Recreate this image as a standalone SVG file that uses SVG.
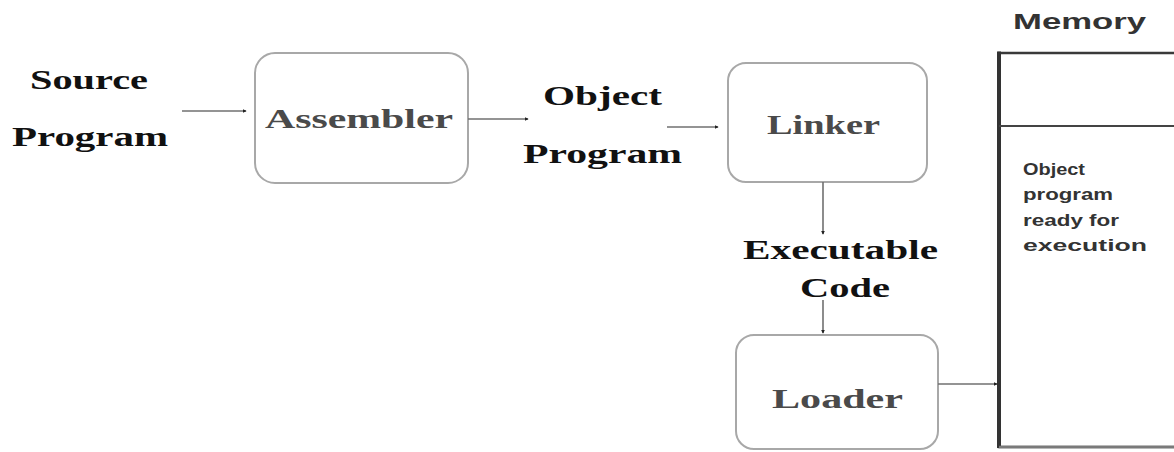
<svg xmlns="http://www.w3.org/2000/svg" width="1174" height="452" viewBox="0 0 1174 452">
  <style>
    .box { fill: #ffffff; stroke: #a8a8a8; stroke-width: 2; }
    .lbl { font-family: "Liberation Serif", "Times New Roman", serif; font-weight: bold; font-size: 28px; fill: #111111; }
    .inbox { font-family: "Liberation Serif", "Times New Roman", serif; font-weight: bold; font-size: 27px; fill: #4a4a4a; }
    .sans { font-family: "Liberation Sans", Arial, sans-serif; font-weight: bold; fill: #333333; }
    .conn { stroke: #707070; stroke-width: 1.6; fill: none; marker-end: url(#head); }
  </style>
  <defs>
    <marker id="head" viewBox="0 0 6 6" refX="5" refY="3" markerWidth="4" markerHeight="4" orient="auto" markerUnits="userSpaceOnUse">
      <path d="M0,0 L6,3 L0,6 Z" fill="#222222"/>
    </marker>
  </defs>
  <rect width="1174" height="452" fill="#ffffff"/>

  <!-- free-standing labels -->
  <g id="source-program">
    <text class="lbl" x="30" y="89" textLength="118" lengthAdjust="spacingAndGlyphs">Source</text>
    <text class="lbl" x="12" y="146" textLength="156" lengthAdjust="spacingAndGlyphs">Program</text>
  </g>
  <g id="object-program">
    <text class="lbl" x="543" y="105" textLength="119" lengthAdjust="spacingAndGlyphs">Object</text>
    <text class="lbl" x="523" y="163" textLength="159" lengthAdjust="spacingAndGlyphs">Program</text>
  </g>
  <g id="executable-code">
    <text class="lbl" x="743" y="259" textLength="195" lengthAdjust="spacingAndGlyphs">Executable</text>
    <text class="lbl" x="800" y="297" textLength="90" lengthAdjust="spacingAndGlyphs">Code</text>
  </g>

  <!-- processing stages -->
  <g id="assembler">
    <rect class="box" x="255" y="53" width="213" height="130" rx="20"/>
    <text class="inbox" x="265" y="128" textLength="188" lengthAdjust="spacingAndGlyphs">Assembler</text>
  </g>
  <g id="linker">
    <rect class="box" x="728" y="63" width="199" height="119" rx="18"/>
    <text class="inbox" x="767" y="134" textLength="113" lengthAdjust="spacingAndGlyphs">Linker</text>
  </g>
  <g id="loader">
    <rect class="box" x="736" y="335" width="202" height="114" rx="18"/>
    <text class="inbox" x="772" y="408" textLength="131" lengthAdjust="spacingAndGlyphs">Loader</text>
  </g>

  <!-- memory column -->
  <g id="memory">
    <text class="sans" x="1013" y="29" font-size="22" textLength="133" lengthAdjust="spacingAndGlyphs">Memory</text>
    <rect x="999" y="53" width="190" height="394" fill="#ffffff" stroke="#3a3a3a" stroke-width="2.5"/>
    <line x1="999" y1="51.5" x2="999" y2="448" stroke="#333333" stroke-width="4"/>
    <line x1="999" y1="126" x2="1174" y2="126" stroke="#444444" stroke-width="2"/>
    <line x1="999" y1="447" x2="1174" y2="447" stroke="#7a7a7a" stroke-width="2.5"/>
    <g class="sans" font-size="16">
      <text x="1023" y="175" textLength="62" lengthAdjust="spacingAndGlyphs">Object</text>
      <text x="1023" y="200" textLength="90" lengthAdjust="spacingAndGlyphs">program</text>
      <text x="1023" y="226" textLength="96" lengthAdjust="spacingAndGlyphs">ready for</text>
      <text x="1023" y="251" textLength="124" lengthAdjust="spacingAndGlyphs">execution</text>
    </g>
  </g>

  <!-- connectors -->
  <g id="connectors">
    <line class="conn" x1="182" y1="111" x2="246" y2="111"/>
    <line class="conn" x1="468" y1="119" x2="528" y2="119"/>
    <line class="conn" x1="667" y1="127" x2="718" y2="127"/>
    <line class="conn" x1="823" y1="182" x2="823" y2="234"/>
    <line class="conn" x1="823" y1="300" x2="823" y2="333"/>
    <line class="conn" x1="938" y1="384" x2="997" y2="384"/>
  </g>
</svg>
